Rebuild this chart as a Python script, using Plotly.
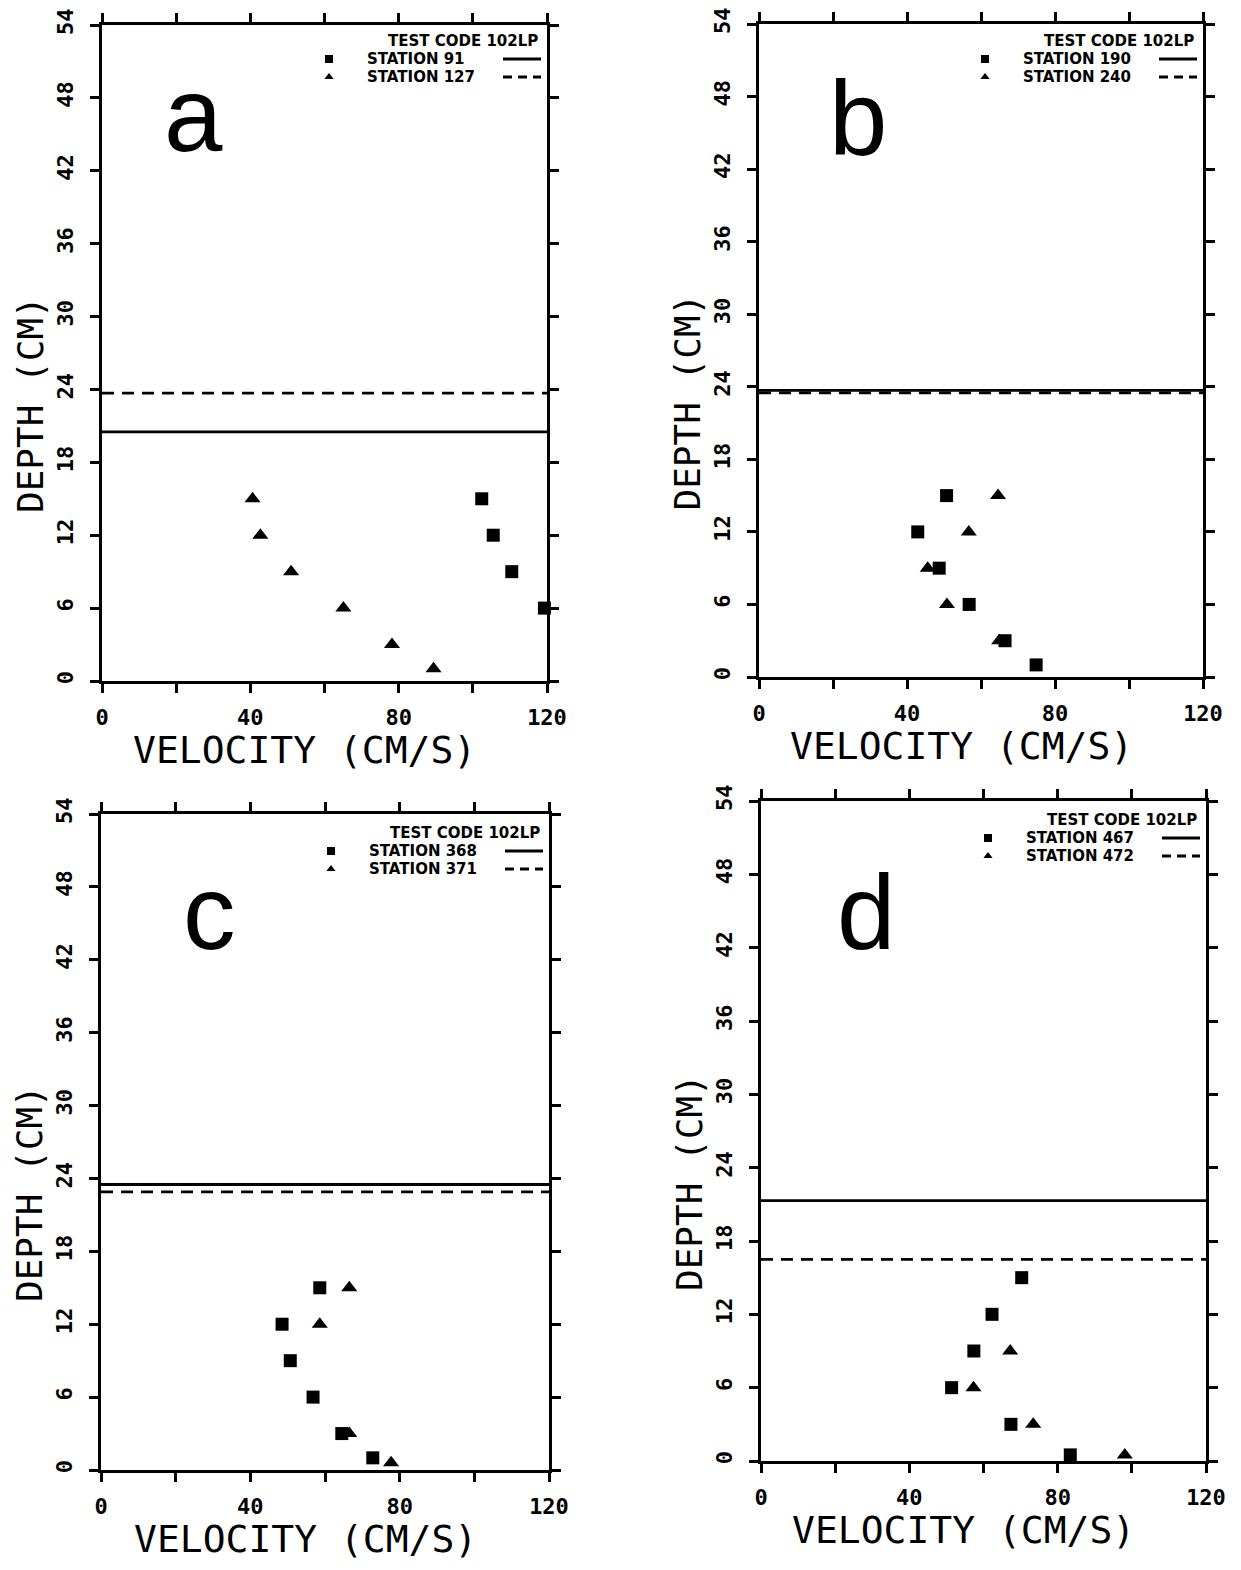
import plotly.graph_objects as go

W, H = 1241, 1570

# ---------------- data ----------------
# panel a
a_sq_vel = [102.4, 105.5, 110.5, 119.3]
a_sq_dep = [15, 12, 9, 6]
a_tri_vel = [40.6, 42.7, 51.0, 65.1, 78.2, 89.4]
a_tri_dep = [15, 12, 9, 6, 3, 1]
a_solid_dep = 20.5
a_dash_dep = 23.7
a_labels = ["TEST CODE 102LP", "STATION 91", "STATION 127"]

# panel b
b_sq_vel = [50.7, 42.9, 48.7, 56.8, 66.5, 74.9]
b_sq_dep = [15, 12, 9, 6, 3, 1]
b_tri_vel = [64.6, 56.7, 45.6, 50.8, 64.9]
b_tri_dep = [15, 12, 9, 6, 3]
b_solid_dep = 23.7
b_dash_dep = 23.5
b_labels = ["TEST CODE 102LP", "STATION 190", "STATION 240"]

# panel c
c_sq_vel = [58.6, 48.5, 50.7, 56.8, 64.5, 72.8]
c_sq_dep = [15, 12, 9, 6, 3, 1]
c_tri_vel = [66.5, 58.6, 66.5, 77.7]
c_tri_dep = [15, 12, 3, 0.6]
c_solid_dep = 23.5
c_dash_dep = 22.9
c_labels = ["TEST CODE 102LP", "STATION 368", "STATION 371"]

# panel d
d_sq_vel = [70.3, 62.3, 57.4, 51.4, 67.4, 83.4]
d_sq_dep = [15, 12, 9, 6, 3, 0.5]
d_tri_vel = [67.2, 57.3, 73.4, 98.1]
d_tri_dep = [9, 6, 3, 0.5]
d_solid_dep = 21.3
d_dash_dep = 16.5
d_labels = ["TEST CODE 102LP", "STATION 467", "STATION 472"]

panel_letters = ["a", "b", "c", "d"]
x_ticks = [0, 20, 40, 60, 80, 100, 120]
x_ticktext = ["0", "", "40", "", "80", "", "120"]
y_ticks = [0, 6, 12, 18, 24, 30, 36, 42, 48, 54]
x_title = "VELOCITY (CM/S)"
y_title = "DEPTH (CM)"

# ---------------- layout geometry (pixels in the page) ----------------
# left, right, top, bottom of each plot area
boxes = [(101, 546, 24, 680), (758, 1202, 23, 676),
         (100, 548, 813, 1469), (760, 1205, 800, 1460)]
letter_pos = [(193, 114), (857, 118), (208, 911), (865, 911)]
OX, OY = 7, 7  # page offset of the plot div

data = [
    (a_sq_vel, a_sq_dep, a_tri_vel, a_tri_dep, a_solid_dep, a_dash_dep, a_labels),
    (b_sq_vel, b_sq_dep, b_tri_vel, b_tri_dep, b_solid_dep, b_dash_dep, b_labels),
    (c_sq_vel, c_sq_dep, c_tri_vel, c_tri_dep, c_solid_dep, c_dash_dep, c_labels),
    (d_sq_vel, d_sq_dep, d_tri_vel, d_tri_dep, d_solid_dep, d_dash_dep, d_labels),
]


def px(x):
    return (x - OX) / W


def py(y):
    return 1 - (y - OY) / H


fig = go.Figure()
annotations = []
shapes = []
MONO = "DejaVu Sans Mono"
DASH = "12px,8px"

for i, (sqv, sqd, trv, trd, sd, dd, labels) in enumerate(data):
    n = "" if i == 0 else str(i + 1)
    xa, ya = "x" + n, "y" + n
    L, R, T, B = boxes[i]
    LT = min(T, 21) if i < 2 else T  # legend anchor (kept where the reference shows it)

    # horizontal lines
    fig.add_trace(go.Scatter(x=[x_ticks[0], x_ticks[-1]], y=[sd, sd], mode="lines",
                             line=dict(color="black", width=2.8), xaxis=xa, yaxis=ya,
                             showlegend=False, hoverinfo="skip"))
    fig.add_trace(go.Scatter(x=[x_ticks[0], x_ticks[-1]], y=[dd, dd], mode="lines",
                             line=dict(color="black", width=2.8, dash=DASH), xaxis=xa, yaxis=ya,
                             showlegend=False, hoverinfo="skip"))
    # markers
    fig.add_trace(go.Scatter(x=sqv, y=sqd, mode="markers", cliponaxis=False,
                             marker=dict(symbol="square", size=13, color="black"),
                             xaxis=xa, yaxis=ya, showlegend=False))
    fig.add_trace(go.Scatter(x=trv, y=trd, mode="markers", cliponaxis=False,
                             marker=dict(symbol="triangle-up", size=14, color="black"),
                             xaxis=xa, yaxis=ya, showlegend=False))

    axis_common = dict(showline=True, linecolor="black", linewidth=3, mirror="allticks",
                       ticks="outside", ticklen=9, tickwidth=2.5, tickcolor="black",
                       showgrid=False, zeroline=False, fixedrange=True, automargin=False,
                       ticklabeloverflow="allow",
                       tickfont=dict(family=MONO, size=22, color="black", weight="bold"))
    fig.update_layout(**{
        ("xaxis" + n): dict(domain=[px(L), px(R)], range=[0, 120], anchor=ya,
                            tickvals=x_ticks, ticktext=x_ticktext, tickangle=0,
                            ticklabelstandoff=6, **axis_common),
        ("yaxis" + n): dict(domain=[py(B), py(T)], range=[0, 54], anchor=xa,
                            tickvals=y_ticks, tickangle=-90, ticklabelstandoff=8,
                            **axis_common),
    })

    # axis titles
    annotations.append(dict(x=px((L + R) / 2 - 20), y=py(B + 69), xref="paper", yref="paper",
                            text=x_title, showarrow=False, xanchor="center", yanchor="middle",
                            font=dict(family=MONO, size=38, color="black")))
    annotations.append(dict(x=px(L - 72), y=py((T + B) / 2 + 52), xref="paper", yref="paper",
                            text=y_title, showarrow=False, textangle=-90,
                            xanchor="center", yanchor="middle",
                            font=dict(family=MONO, size=36, color="black")))
    # panel letter
    lx, ly = letter_pos[i]
    annotations.append(dict(x=px(lx), y=py(ly), xref="paper", yref="paper",
                            text=panel_letters[i], showarrow=False,
                            xanchor="center", yanchor="middle",
                            font=dict(family="Liberation Sans", size=105, color="black")))
    # legend block
    lf = dict(family="DejaVu Sans", size=15, color="black", weight="bold")
    annotations.append(dict(x=px(R - 8), y=py(LT + 19), xref="paper", yref="paper",
                            text=labels[0], showarrow=False, xanchor="right", yanchor="middle",
                            font=lf, borderpad=0))
    for k, yy in enumerate([LT + 37, LT + 55]):
        annotations.append(dict(x=px(R - 181), y=py(yy), xref="paper", yref="paper",
                                text=labels[k + 1], showarrow=False, xanchor="left",
                                yanchor="middle", font=lf, borderpad=0))
        shapes.append(dict(type="line", xref="paper", yref="paper",
                           x0=px(R - 44), x1=px(R - 6), y0=py(yy), y1=py(yy),
                           line=dict(color="black", width=2.8,
                                     dash="solid" if k == 0 else "9px,6px")))
    fig.add_trace(go.Scatter(x=[px(R - 218)], y=[py(LT + 37)], mode="markers",
                             marker=dict(symbol="square", size=8, color="black"),
                             xaxis="x5", yaxis="y5", showlegend=False, hoverinfo="skip"))
    fig.add_trace(go.Scatter(x=[px(R - 218)], y=[py(LT + 55)], mode="markers",
                             marker=dict(symbol="triangle-up", size=8, color="black"),
                             xaxis="x5", yaxis="y5", showlegend=False, hoverinfo="skip"))

fig.update_layout(
    xaxis5=dict(domain=[0, 1], range=[0, 1], visible=False, fixedrange=True, automargin=False),
    yaxis5=dict(domain=[0, 1], range=[0, 1], visible=False, fixedrange=True, automargin=False),
)

fig.update_layout(width=W, height=H, margin=dict(l=0, r=0, t=0, b=0, autoexpand=False),
                  paper_bgcolor="white", plot_bgcolor="rgba(0,0,0,0)",
                  annotations=annotations, shapes=shapes, showlegend=False)

fig.write_html("out.html", config=dict(displayModeBar=False))
